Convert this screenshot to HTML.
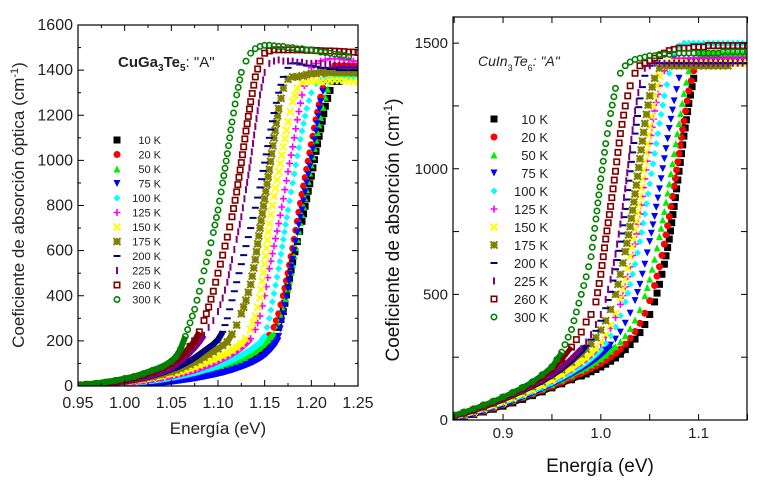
<!DOCTYPE html>
<html><head><meta charset="utf-8"><style>
body{margin:0;background:#fff;width:759px;height:484px;overflow:hidden}
svg{display:block;font-family:"Liberation Sans",sans-serif}
</style></head><body>
<svg id="chart" width="759" height="484"></svg>
<script>
const temps=["10 K","20 K","50 K","75 K","100 K","125 K","150 K","175 K","200 K","225 K","260 K","300 K"];
const leftYTicks=[0,200,400,600,800,1000,1200,1400,1600];
const leftXTicks=["0.95","1.00","1.05","1.10","1.15","1.20","1.25"];
const rightYTicks=[0,500,1000,1500];
const rightXTicks=["0.9","1.0","1.1"];
const leftX=[0.95,0.96,0.97,0.98,0.99,1.00,1.01,1.02,1.03,1.04,1.05,1.055,1.06,1.065,1.07,1.075,1.08,1.085,1.09,1.095,1.10,1.105,1.11,1.115,1.12,1.125,1.13,1.135,1.14,1.145,1.15,1.155,1.16,1.165,1.17,1.175,1.18,1.185,1.19,1.195,1.20,1.205,1.21,1.215,1.22,1.225,1.23,1.235,1.24,1.245,1.25];
const L10=[1,2,3,4,5,7,9,12,15,19,24,27,30,33,37,41,45,50,55,60,66,72,79,86,94,103,113,124,136,150,165,185,210,260,330,440,550,640,730,830,930,1040,1140,1240,1310,1350,1350,null,null,null,null];
const L20=[1,2,3,4,6,8,11,14,19,24,30,34,38,42,47,52,57,63,69,75,82,89,97,106,116,127,139,152,166,182,200,225,260,320,400,500,610,730,850,960,1070,1180,1280,1360,1400,1420,1420,1420,1420,1420,1420];
const L50=[1,2,3,4,6,8,11,14,18,23,29,32,36,40,44,48,53,58,63,69,75,82,89,97,106,116,127,139,152,167,185,205,230,270,340,430,540,650,760,870,980,1090,1190,1280,1350,1380,1380,1385,1385,1385,1385];
const L75=[0,1,2,3,4,5,7,9,12,15,19,22,25,28,31,34,38,42,46,50,55,60,66,72,79,86,94,103,113,125,140,160,185,220,320,430,560,680,780,900,1010,1130,1260,1350,1390,1400,1400,1400,1400,1400,1400];
const L100=[2,3,4,6,8,11,14,18,23,29,36,40,44,48,53,58,63,69,75,82,90,98,106,115,125,136,148,160,175,190,220,300,410,520,650,780,900,1020,1130,1230,1300,1340,1355,1360,1360,1360,1360,1360,1360,1360,1360];
const L125=[2,3,5,7,10,13,17,22,28,35,43,48,53,58,64,70,77,84,92,100,110,120,130,142,155,170,188,210,250,310,400,520,620,720,830,950,1060,1180,1290,1370,1410,1430,1440,1445,1450,1450,1450,1445,1445,1440,1440];
const L150=[2,4,6,9,13,17,22,28,35,43,53,58,64,70,77,84,92,100,108,116,125,135,145,158,172,188,210,250,310,390,540,720,840,950,1060,1170,1260,1320,1345,1350,1350,1350,1350,1350,1355,1355,1355,1355,1350,1350,1350];
const L175=[3,5,7,10,14,19,25,32,40,50,62,70,78,86,95,105,115,127,140,152,165,180,195,230,270,320,380,450,560,700,830,960,1100,1230,1320,1360,1370,1370,1375,1380,1385,1385,1390,1390,1390,1390,1390,1390,1390,1390,1390];
const L200=[3,5,7,10,14,20,27,35,45,58,74,80,90,100,112,125,140,155,170,185,205,240,300,380,460,540,620,700,790,880,990,1100,1210,1300,1370,1410,1430,1430,1425,1420,1420,1415,1410,1410,1405,1405,1400,1400,1400,1400,1400];
const L225=[3,5,7,10,15,21,28,37,48,62,80,95,110,128,148,170,195,225,260,290,330,390,460,560,650,750,870,1000,1150,1290,1390,1430,1440,1445,1440,1440,1440,1435,1435,1430,1430,1430,1430,1425,1425,1420,1420,1420,1415,1415,1410];
const L260=[5,7,10,14,20,27,36,48,62,80,100,115,130,150,175,200,240,290,350,420,500,580,660,750,860,990,1130,1260,1370,1440,1475,1485,1490,1490,1490,1490,1490,1490,1490,1488,1488,1487,1486,1485,1485,1484,1483,1482,1480,1480,1478];
const L300=[5,8,12,18,25,33,42,55,70,85,110,130,165,220,280,340,420,510,590,680,780,900,1030,1170,1290,1390,1440,1475,1495,1505,1510,1510,1508,1505,1505,1500,1500,1495,1495,1490,1490,1485,1480,1478,1475,1470,1468,1465,1460,null,null];
const rightX=[0.85,0.86,0.87,0.88,0.89,0.90,0.91,0.92,0.93,0.94,0.95,0.96,0.97,0.98,0.985,0.99,0.995,1.00,1.005,1.01,1.015,1.02,1.025,1.03,1.035,1.04,1.045,1.05,1.055,1.06,1.065,1.07,1.075,1.08,1.085,1.09,1.095,1.10,1.105,1.11,1.115,1.12,1.125,1.13,1.135,1.14,1.145,1.15];
const R10=[5,13,22,32,43,55,68,82,97,112,128,144,160,175,183,192,201,211,222,234,247,262,280,300,322,348,380,420,470,540,620,720,850,990,1130,1260,1360,1420,1440,1440,1440,1440,1440,1440,1440,1440,1440,1440];
const R20=[5,14,24,35,47,60,74,88,103,118,134,150,167,185,194,204,214,225,237,250,265,282,302,325,352,385,425,475,535,610,700,810,930,1060,1190,1310,1390,1430,1440,1440,1440,1440,1440,1440,1440,1440,1440,1440];
const R50=[8,18,28,40,52,65,79,93,108,124,141,159,178,198,208,219,231,244,258,274,292,312,336,364,398,440,495,560,640,730,830,940,1060,1180,1300,1390,1440,1460,1460,1460,1460,1460,1460,1460,1460,1460,1460,1460];
const R75=[5,15,25,37,50,63,77,92,108,125,143,162,183,205,217,230,244,260,278,298,322,350,385,425,475,540,620,710,810,920,1040,1160,1270,1360,1410,1430,1430,1430,1430,1430,1430,1430,1430,1430,1430,1430,1430,1430];
const R100=[10,20,30,42,55,68,82,97,113,130,148,168,190,214,228,243,260,280,305,335,370,415,470,540,620,710,820,940,1060,1180,1290,1380,1450,1490,1500,1500,1500,1500,1500,1500,1500,1500,1500,1500,1500,1500,1500,1500];
const R125=[12,22,33,45,58,72,87,103,120,138,157,178,202,228,243,260,279,302,330,365,408,460,530,610,700,820,960,1100,1230,1330,1390,1420,1440,1440,1440,1440,1440,1440,1440,1440,1440,1440,1440,1440,1440,1440,1440,1440];
const R150=[12,22,33,45,58,72,87,103,120,138,158,180,205,232,248,265,285,310,340,378,425,485,560,650,760,890,1030,1170,1290,1370,1410,1420,1420,1420,1420,1420,1420,1420,1420,1420,1420,1420,1420,1420,1420,1420,1420,1420];
const R175=[15,25,37,50,65,80,96,113,132,152,175,200,230,262,282,302,328,358,395,440,500,580,670,770,900,1040,1180,1290,1360,1400,1410,1410,1410,1410,1410,1410,1410,1410,1410,1410,1410,1410,1410,1410,null,null,null,null];
const R200=[15,25,37,50,65,80,97,115,133,153,176,202,235,272,295,320,355,395,445,510,600,710,840,990,1140,1280,1370,1410,1420,1420,1420,1420,1420,1420,1420,1420,1420,1420,1420,1420,1420,1420,1420,1420,1420,1420,1420,1420];
const R225=[15,25,38,52,67,83,100,118,137,158,182,210,245,285,310,340,380,420,480,560,660,780,920,1080,1230,1340,1400,1410,1420,1420,1420,1420,1420,1420,1420,1420,1420,1420,1420,1420,1420,1420,1420,1420,1420,1420,1420,1420];
const R260=[15,28,40,55,70,88,105,125,145,170,200,240,290,350,390,420,470,580,720,850,990,1140,1250,1330,1380,1410,1420,1430,1440,1450,1460,1470,1475,1480,1480,1480,1485,1485,1485,1490,1490,1490,1490,1490,1490,1490,1490,1490];
const R300=[20,32,45,60,75,92,110,130,152,180,212,270,360,500,570,650,800,960,1100,1220,1320,1380,1410,1425,1435,1440,1445,1450,1450,1455,1455,1455,1455,1460,1460,1460,1460,1460,1460,1460,1460,1460,1465,1465,1465,1465,1465,1465];
const leftSeries=[L10,L20,L50,L75,L100,L125,L150,L175,L200,L225,L260,L300];
const rightSeries=[R10,R20,R50,R75,R100,R125,R150,R175,R200,R225,R260,R300];

const colors=["#000000","#ff0000","#00ee00","#0000ff","#00ffff","#ff00ff","#ffff00","#808000","#000080","#800080","#800000","#008000"];
const kinds=["sq","ci","tu","td","di","plus","x","star","hd","vd","osq","oci"];
const NS="http://www.w3.org/2000/svg";
const svg=document.getElementById('chart');
function mk(tag,attrs,parent){const e=document.createElementNS(NS,tag);for(const k in attrs)e.setAttribute(k,attrs[k]);(parent||svg).appendChild(e);return e;}
function marker(g,kind,c,x,y,s){
  const h=s/2;let e;
  if(kind==="sq")e=mk('rect',{x:x-h,y:y-h,width:s,height:s,fill:c},g);
  else if(kind==="ci")e=mk('circle',{cx:x,cy:y,r:h,fill:c},g);
  else if(kind==="tu")e=mk('polygon',{points:`${x-h},${y+h} ${x+h},${y+h} ${x},${y-h}`,fill:c},g);
  else if(kind==="td")e=mk('polygon',{points:`${x-h},${y-h} ${x+h},${y-h} ${x},${y+h}`,fill:c},g);
  else if(kind==="di")e=mk('polygon',{points:`${x},${y-h} ${x+h},${y} ${x},${y+h} ${x-h},${y}`,fill:c},g);
  else if(kind==="plus")e=mk('path',{d:`M${x-h},${y}H${x+h}M${x},${y-h}V${y+h}`,stroke:c,'stroke-width':1.6,fill:'none'},g);
  else if(kind==="x")e=mk('path',{d:`M${x-h},${y-h}L${x+h},${y+h}M${x+h},${y-h}L${x-h},${y+h}`,stroke:c,'stroke-width':2,fill:'none'},g);
  else if(kind==="star")e=mk('path',{d:`M${x-h},${y-h}L${x+h},${y+h}M${x+h},${y-h}L${x-h},${y+h}M${x},${y-h}V${y+h}M${x-h},${y}H${x+h}`,stroke:c,'stroke-width':2,fill:'none'},g);
  else if(kind==="hd")e=mk('path',{d:`M${x-h},${y}H${x+h}`,stroke:c,'stroke-width':2,fill:'none'},g);
  else if(kind==="vd")e=mk('path',{d:`M${x},${y-h}V${y+h}`,stroke:c,'stroke-width':2,fill:'none'},g);
  else if(kind==="osq")e=mk('rect',{x:x-h+0.8,y:y-h+0.8,width:s-1.6,height:s-1.6,fill:'none',stroke:c,'stroke-width':1.6},g);
  else e=mk('circle',{cx:x,cy:y,r:h-0.8,fill:'none',stroke:c,'stroke-width':1.6},g);
  return e;
}
function panel(cfg){
  const P=mk('g',{});
  
  
  const sx=v=>cfg.x0+(v-cfg.xmin)/(cfg.xmax-cfg.xmin)*(cfg.x1-cfg.x0);
  const sy=v=>cfg.y0-(v-cfg.ymin)/(cfg.ymax-cfg.ymin)*(cfg.y0-cfg.y1);
  const clip='clip-'+cfg.name;
  const cp=mk('clipPath',{id:clip},P);mk('rect',{x:cfg.x0,y:cfg.y1,width:cfg.x1-cfg.x0,height:cfg.y0-cfg.y1},cp);
  const data=mk('g',{'clip-path':`url(#${clip})`},P);
  cfg.series.forEach((arr,i)=>{
    const g=mk('g',{},data);
    
    
    let pts=[],lowPts=[];
    arr.forEach((v,j)=>{if(v!==null){const p=[sx(cfg.xs[j]),sy(v)];pts.push(p);if(v<cfg.lineMax)lowPts.push(p.map(n=>n.toFixed(1)).join(','));}});
    mk('polyline',{points:lowPts.join(' '),fill:'none',stroke:colors[i],'stroke-width':cfg.lw,'stroke-linejoin':'round'},g);
    // markers at data points, plus rendering-only fill-in along long segments so the dense look matches
    pts.forEach((p,k)=>{
      marker(g,kinds[i],colors[i],p[0],p[1],cfg.ms);
      if(k<pts.length-1){const q=pts[k+1];const d=Math.hypot(q[0]-p[0],q[1]-p[1]);const n=Math.floor(d/cfg.gap);
        for(let m=1;m<n;m++){const t=m/n;marker(g,kinds[i],colors[i],p[0]+(q[0]-p[0])*t,p[1]+(q[1]-p[1])*t,cfg.ms);}}
    });
  });
  const fr=mk('rect',{x:cfg.x0,y:cfg.y1,width:cfg.x1-cfg.x0,height:cfg.y0-cfg.y1,fill:'none',stroke:'#000','stroke-width':1.2},P);
  
  const tg=mk('g',{stroke:'#000','stroke-width':1},P);
  cfg.xTickVals.forEach(v=>{const x=sx(v),len=cfg.majorX(v)?6:3;mk('line',{x1:x,x2:x,y1:cfg.y0,y2:cfg.y0-len},tg);mk('line',{x1:x,x2:x,y1:cfg.y1,y2:cfg.y1+len},tg);});
  cfg.yTickVals.forEach(v=>{const y=sy(v),len=cfg.majorY(v)?6:3;mk('line',{x1:cfg.x0,x2:cfg.x0+len,y1:y,y2:y},tg);mk('line',{x1:cfg.x1,x2:cfg.x1-len,y1:y,y2:y},tg);});
  cfg.yLabels.forEach(v=>{const t=mk('text',{x:cfg.x0-5,y:sy(v)+5,'text-anchor':'end','font-size':cfg.fs,fill:'#222'},P);t.textContent=v;
    });
  cfg.xLabels.forEach(s=>{const t=mk('text',{x:sx(parseFloat(s)),y:cfg.y0+cfg.xlOff,'text-anchor':'middle','font-size':cfg.fs,fill:'#222'},P);t.textContent=s;
    });
  const lg=mk('g',{},P);
  
  temps.forEach((tl,i)=>{
    const y=cfg.legY+i*cfg.legStep;
    const e=mk('g',{},lg);
    
    marker(e,kinds[i],colors[i],cfg.legX,y,cfg.ms);
    const t=mk('text',{x:cfg.legTX,y:y+cfg.legFs*0.38,'text-anchor':'end','font-size':cfg.legFs,fill:'#222'},e);t.textContent=tl;
  });
  return P;
}
const ltv=[],lyv=[],rtv=[],ryv=[];
for(let i=0;i<=12;i++)ltv.push(0.95+i*0.025);
for(let i=0;i<=16;i++)lyv.push(i*100);
for(let i=0;i<=6;i++)rtv.push(0.85+i*0.05);
for(let i=0;i<=6;i++)ryv.push(i*250);
panel({name:'left-panel',x0:78,x1:358,y0:386,y1:25,xmin:0.95,xmax:1.25,ymin:0,ymax:1600,xs:leftX,series:leftSeries,ms:7,lw:6,lineMax:250,gap:7,fs:16,xlOff:22,
  xTickVals:ltv,yTickVals:lyv,majorX:v=>Math.abs(v*20-Math.round(v*20))<1e-6,majorY:v=>v%200===0,
  yLabels:leftYTicks,xLabels:leftXTicks,legX:117,legY:140,legStep:14.5,legTX:161,legFs:11});
panel({name:'right-panel',x0:453,x1:747,y0:420,y1:17,xmin:0.8488,xmax:1.1495,ymin:0,ymax:1604,xs:rightX,series:rightSeries,ms:7,lw:5,lineMax:300,gap:8,fs:15,xlOff:18,
  xTickVals:rtv,yTickVals:ryv,majorX:v=>true,majorY:v=>true,
  yLabels:rightYTicks,xLabels:rightXTicks,legX:494,legY:119,legStep:18,legTX:548,legFs:13});
function txt(s,a,name){const t=mk('text',a);t.innerHTML=s;return t;}
txt('Coeficiente de absorción óptica (cm<tspan dy="-6" font-size="11">-1</tspan><tspan dy="6">)</tspan>',{x:0,y:0,transform:'translate(24,205) rotate(-90)','text-anchor':'middle','font-size':17,fill:'#222'},'left-y-axis-title');
txt('Energía (eV)',{x:218,y:434,'text-anchor':'middle','font-size':17,fill:'#222'},'left-x-axis-title');
txt('CuGa<tspan dy="4" font-size="10">3</tspan><tspan dy="-4">Te</tspan><tspan dy="4" font-size="10">5</tspan><tspan dy="-4" font-weight="normal">: "A"</tspan>',{x:118,y:67,'font-size':15,'font-weight':'bold',fill:'#222'},'left-annotation');
txt('Coeficiente de absorción  (cm<tspan dy="-7" font-size="12">-1</tspan><tspan dy="7">)</tspan>',{x:0,y:0,transform:'translate(399,230) rotate(-90)','text-anchor':'middle','font-size':19,fill:'#111'},'right-y-axis-title');
txt('Energía  (eV)',{x:600,y:472,'text-anchor':'middle','font-size':19,fill:'#111'},'right-x-axis-title');
txt('<tspan font-style="italic">CuIn</tspan><tspan dy="5" font-size="9">3</tspan><tspan dy="-5" font-style="italic">Te</tspan><tspan dy="5" font-size="9">6</tspan><tspan dy="-5" font-style="italic">: "A"</tspan>',{x:478,y:66,'font-size':14,fill:'#222'},'right-annotation');
</script>
</body></html>
